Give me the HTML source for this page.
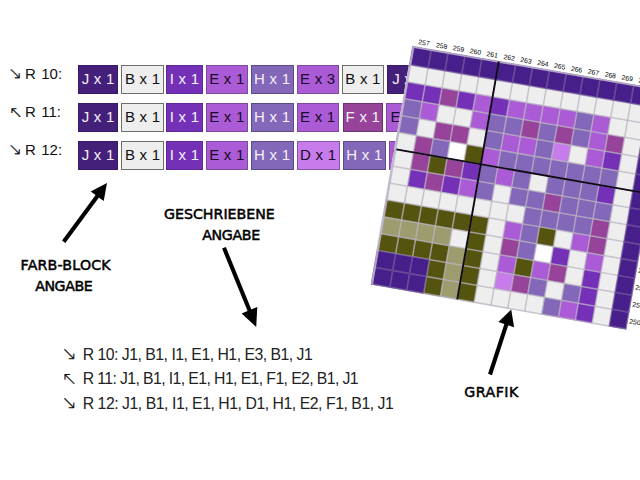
<!DOCTYPE html>
<html><head><meta charset="utf-8"><title>Anleitung</title>
<style>
html,body{margin:0;padding:0;background:#fff;}
body{width:640px;height:480px;position:relative;overflow:hidden;font-family:"Liberation Sans",sans-serif;}
.bk{position:absolute;height:28.8px;box-sizing:border-box;border:1px solid #555;font-size:15px;line-height:25.4px;text-align:center;white-space:nowrap;word-spacing:0.5px}
.lab{position:absolute;font-size:15px;line-height:18px;color:#111;white-space:nowrap;word-spacing:1.2px}
.hand{position:absolute;font-family:"DejaVu Sans","Liberation Sans",sans-serif;font-weight:normal;font-size:14.2px;line-height:14px;color:#000;white-space:nowrap;-webkit-text-stroke:0.5px #000}
.txt{position:absolute;font-size:15.8px;line-height:18px;color:#222;white-space:nowrap;letter-spacing:-0.45px}
.ar{position:absolute;font-family:"DejaVu Sans Light","DejaVu Sans",sans-serif;font-size:16.5px;line-height:20px;color:#111;-webkit-text-stroke:0.3px #111;white-space:nowrap}
.ar2{font-size:18.5px;-webkit-text-stroke:0.22px #111}
svg{position:absolute;left:0;top:0}
</style></head><body>
<div class="ar" id="a1" style="left:8px;top:63.5px">↘</div>
<div class="ar" id="a2" style="left:9.3px;top:102.5px">↖</div>
<div class="ar" id="a3" style="left:8px;top:139.6px">↘</div>
<div class="ar ar2" id="a4" style="left:61.2px;top:344px">↘</div>
<div class="ar ar2" id="a5" style="left:61.4px;top:368.6px">↖</div>
<div class="ar ar2" id="a6" style="left:61.2px;top:393.3px">↘</div>
<div class="lab" style="left:25px;top:64.8px">R 10:</div>
<div class="lab" style="left:25px;top:102.9px">R 11:</div>
<div class="lab" style="left:25px;top:140.9px">R 12:</div>
<div class="bk" style="left:78px;top:65.0px;width:40px;background:#44207a;border-color:#3a1a68;color:#f4f0fa">J x 1</div>
<div class="bk" style="left:121.25px;top:65.0px;width:42.5px;background:#eeeeee;border-color:#6e6e6e;color:#111">B x 1</div>
<div class="bk" style="left:166.25px;top:65.0px;width:36.25px;background:#7530b8;border-color:#5f2898;color:#f4f0fa">I x 1</div>
<div class="bk" style="left:205.5px;top:65.0px;width:42.5px;background:#ab5bd6;border-color:#7d4aa0;color:#1a0a2a">E x 1</div>
<div class="bk" style="left:250.5px;top:65.0px;width:43.25px;background:#8367b8;border-color:#5d4a88;color:#f4f0fa">H x 1</div>
<div class="bk" style="left:296.75px;top:65.0px;width:41.75px;background:#ab5bd6;border-color:#7d4aa0;color:#1a0a2a">E x 3</div>
<div class="bk" style="left:342px;top:65.0px;width:41.75px;background:#eeeeee;border-color:#6e6e6e;color:#111">B x 1</div>
<div class="bk" style="left:387px;top:65.0px;width:43px;background:#44207a;border-color:#3a1a68;color:#f4f0fa">J x 1</div>
<div class="bk" style="left:78px;top:103.1px;width:40px;background:#44207a;border-color:#3a1a68;color:#f4f0fa">J x 1</div>
<div class="bk" style="left:121.25px;top:103.1px;width:42.5px;background:#eeeeee;border-color:#6e6e6e;color:#111">B x 1</div>
<div class="bk" style="left:166.25px;top:103.1px;width:36.25px;background:#7530b8;border-color:#5f2898;color:#f4f0fa">I x 1</div>
<div class="bk" style="left:205.5px;top:103.1px;width:42.5px;background:#ab5bd6;border-color:#7d4aa0;color:#1a0a2a">E x 1</div>
<div class="bk" style="left:250.5px;top:103.1px;width:43.25px;background:#8367b8;border-color:#5d4a88;color:#f4f0fa">H x 1</div>
<div class="bk" style="left:296.75px;top:103.1px;width:41.75px;background:#ab5bd6;border-color:#7d4aa0;color:#1a0a2a">E x 1</div>
<div class="bk" style="left:342.5px;top:103.1px;width:40.5px;background:#964399;border-color:#6e3272;color:#f4f0fa">F x 1</div>
<div class="bk" style="left:386.25px;top:103.1px;width:43.75px;background:#ab5bd6;border-color:#7d4aa0;color:#1a0a2a">E x 2</div>
<div class="bk" style="left:78px;top:141.2px;width:40px;background:#44207a;border-color:#3a1a68;color:#f4f0fa">J x 1</div>
<div class="bk" style="left:121.25px;top:141.2px;width:42.5px;background:#eeeeee;border-color:#6e6e6e;color:#111">B x 1</div>
<div class="bk" style="left:166.25px;top:141.2px;width:36.25px;background:#7530b8;border-color:#5f2898;color:#f4f0fa">I x 1</div>
<div class="bk" style="left:205.5px;top:141.2px;width:42.5px;background:#ab5bd6;border-color:#7d4aa0;color:#1a0a2a">E x 1</div>
<div class="bk" style="left:250.5px;top:141.2px;width:43.25px;background:#8367b8;border-color:#5d4a88;color:#f4f0fa">H x 1</div>
<div class="bk" style="left:296.75px;top:141.2px;width:42.75px;background:#c87bea;border-color:#8a58a8;color:#1a0a2a">D x 1</div>
<div class="bk" style="left:343px;top:141.2px;width:42.5px;background:#8367b8;border-color:#5d4a88;color:#f4f0fa">H x 1</div>
<div class="bk" style="left:388.75px;top:141.2px;width:42.25px;background:#ab5bd6;border-color:#7d4aa0;color:#1a0a2a">E x 2</div>
<svg width="640" height="480" viewBox="0 0 640 480">
<polygon points="416.29,22.76 703.08,72.67 656.29,340.58 369.63,289.91" fill="#ffffff"/>
<polygon points="412.75,46.50 431.59,49.78 428.33,68.43 409.49,65.14" fill="#48208a"/>
<polygon points="431.29,49.73 448.46,52.72 445.20,71.37 428.04,68.37" fill="#48208a"/>
<polygon points="448.16,52.67 465.33,55.66 462.07,74.31 444.91,71.32" fill="#48208a"/>
<polygon points="465.04,55.61 482.20,58.60 478.95,77.26 461.78,74.26" fill="#48208a"/>
<polygon points="481.91,58.55 499.07,61.55 495.82,80.20 478.65,77.21" fill="#48208a"/>
<polygon points="498.78,61.49 515.95,64.49 512.69,83.14 495.52,80.15" fill="#48208a"/>
<polygon points="515.65,64.43 532.82,67.43 529.56,86.09 512.39,83.09" fill="#48208a"/>
<polygon points="532.52,67.38 549.69,70.37 546.43,89.03 529.26,86.04" fill="#48208a"/>
<polygon points="549.40,70.32 566.56,73.31 563.30,91.98 546.14,88.98" fill="#48208a"/>
<polygon points="566.27,73.26 583.43,76.25 580.17,94.92 563.01,91.92" fill="#48208a"/>
<polygon points="583.14,76.20 600.31,79.19 597.05,97.86 579.88,94.87" fill="#48208a"/>
<polygon points="600.01,79.14 617.18,82.13 613.92,100.81 596.75,97.81" fill="#48208a"/>
<polygon points="616.88,82.08 634.05,85.07 630.79,103.75 613.62,100.75" fill="#48208a"/>
<polygon points="633.76,85.02 650.92,88.01 647.66,106.69 630.49,103.70" fill="#48208a"/>
<polygon points="650.63,87.96 667.79,90.95 664.53,109.64 647.37,106.64" fill="#48208a"/>
<polygon points="409.55,64.84 428.38,68.13 425.38,85.29 406.55,82.00" fill="#eeeeee"/>
<polygon points="428.09,68.08 445.25,71.07 442.26,88.24 425.09,85.24" fill="#eeeeee"/>
<polygon points="444.96,71.02 462.13,74.02 459.13,91.19 441.96,88.19" fill="#eeeeee"/>
<polygon points="461.83,73.97 479.00,76.96 476.00,94.13 458.83,91.14" fill="#eeeeee"/>
<polygon points="478.70,76.91 495.87,79.90 492.87,97.08 475.70,94.08" fill="#eeeeee"/>
<polygon points="495.57,79.85 512.74,82.85 509.74,100.03 492.57,97.03" fill="#eeeeee"/>
<polygon points="512.45,82.80 529.61,85.79 526.61,102.97 509.44,99.98" fill="#eeeeee"/>
<polygon points="529.32,85.74 546.48,88.74 543.48,105.92 526.32,102.92" fill="#eeeeee"/>
<polygon points="546.19,88.68 563.35,91.68 560.35,108.87 543.19,105.87" fill="#eeeeee"/>
<polygon points="563.06,91.63 580.23,94.62 577.22,111.81 560.06,108.82" fill="#eeeeee"/>
<polygon points="579.93,94.57 597.10,97.57 594.09,114.76 576.93,111.76" fill="#eeeeee"/>
<polygon points="596.80,97.52 613.97,100.51 610.97,117.71 593.80,114.71" fill="#eeeeee"/>
<polygon points="613.67,100.46 630.84,103.45 627.84,120.65 610.67,117.66" fill="#eeeeee"/>
<polygon points="630.55,103.40 647.71,106.40 644.71,123.60 627.54,120.60" fill="#eeeeee"/>
<polygon points="647.42,106.35 664.58,109.34 661.58,126.55 644.41,123.55" fill="#48208a"/>
<polygon points="406.60,81.71 425.44,85.00 422.44,102.16 403.60,98.87" fill="#7530b8"/>
<polygon points="425.14,84.95 442.31,87.95 439.31,105.11 422.14,102.11" fill="#7530b8"/>
<polygon points="442.01,87.89 459.18,90.89 456.18,108.06 439.01,105.06" fill="#964399"/>
<polygon points="458.88,90.84 476.05,93.84 473.05,111.01 455.88,108.01" fill="#7530b8"/>
<polygon points="475.75,93.79 492.92,96.78 489.92,113.96 472.75,110.96" fill="#ab5bd6"/>
<polygon points="492.63,96.73 509.79,99.73 506.79,116.91 489.63,113.91" fill="#7530b8"/>
<polygon points="509.50,99.68 526.66,102.68 523.66,119.86 506.50,116.86" fill="#ab5bd6"/>
<polygon points="526.37,102.63 543.53,105.62 540.53,122.81 523.37,119.81" fill="#ab5bd6"/>
<polygon points="543.24,105.57 560.40,108.57 557.40,125.76 540.24,122.76" fill="#ab5bd6"/>
<polygon points="560.11,108.52 577.28,111.52 574.27,128.71 557.11,125.71" fill="#ab5bd6"/>
<polygon points="576.98,111.47 594.15,114.46 591.14,131.66 573.98,128.66" fill="#8367b8"/>
<polygon points="593.85,114.41 611.02,117.41 608.01,134.61 590.85,131.61" fill="#ab5bd6"/>
<polygon points="610.72,117.36 627.89,120.36 624.88,137.56 607.72,134.56" fill="#eeeeee"/>
<polygon points="627.59,120.31 644.76,123.30 641.75,140.51 624.59,137.50" fill="#eeeeee"/>
<polygon points="644.46,123.25 661.63,126.25 658.63,143.45 641.46,140.45" fill="#48208a"/>
<polygon points="403.65,98.58 422.49,101.87 419.49,119.03 400.66,115.74" fill="#8367b8"/>
<polygon points="422.19,101.82 439.36,104.82 436.36,121.98 419.20,118.98" fill="#ab5bd6"/>
<polygon points="439.07,104.77 456.23,107.77 453.23,124.94 436.07,121.93" fill="#eeeeee"/>
<polygon points="455.94,107.72 473.10,110.72 470.10,127.89 452.94,124.89" fill="#eeeeee"/>
<polygon points="472.81,110.66 489.97,113.67 486.97,130.84 469.81,127.84" fill="#ab5bd6"/>
<polygon points="489.68,113.61 506.84,116.61 503.84,133.79 486.68,130.79" fill="#8367b8"/>
<polygon points="506.55,116.56 523.71,119.56 520.71,136.75 503.55,133.74" fill="#8367b8"/>
<polygon points="523.42,119.51 540.58,122.51 537.58,139.70 520.42,136.69" fill="#964399"/>
<polygon points="540.29,122.46 557.45,125.46 554.45,142.65 537.29,139.65" fill="#8367b8"/>
<polygon points="557.16,125.41 574.32,128.41 571.32,145.60 554.16,142.60" fill="#964399"/>
<polygon points="574.03,128.36 591.20,131.36 588.19,148.55 571.03,145.55" fill="#8367b8"/>
<polygon points="590.90,131.31 608.07,134.31 605.06,151.51 587.90,148.50" fill="#ab5bd6"/>
<polygon points="607.77,134.26 624.94,137.26 621.93,154.46 604.77,151.46" fill="#964399"/>
<polygon points="624.64,137.21 641.81,140.21 638.80,157.41 621.64,154.41" fill="#eeeeee"/>
<polygon points="641.51,140.16 658.68,143.16 655.67,160.36 638.51,157.36" fill="#48208a"/>
<polygon points="400.71,115.44 419.54,118.74 416.55,135.90 397.71,132.60" fill="#8367b8"/>
<polygon points="419.25,118.69 436.41,121.69 433.41,138.86 416.25,135.85" fill="#eeeeee"/>
<polygon points="436.12,121.64 453.28,124.64 450.28,141.81 433.12,138.81" fill="#964399"/>
<polygon points="452.99,124.59 470.15,127.59 467.15,144.77 449.99,141.76" fill="#964399"/>
<polygon points="469.86,127.54 487.02,130.55 484.02,147.72 466.86,144.72" fill="#eeeeee"/>
<polygon points="486.73,130.49 503.89,133.50 500.89,150.68 483.73,147.67" fill="#8367b8"/>
<polygon points="503.60,133.45 520.76,136.45 517.76,153.63 500.60,150.63" fill="#ab5bd6"/>
<polygon points="520.47,136.40 537.63,139.40 534.63,156.59 517.47,153.58" fill="#ab5bd6"/>
<polygon points="537.34,139.35 554.50,142.35 551.50,159.54 534.34,156.54" fill="#8367b8"/>
<polygon points="554.21,142.30 571.37,145.31 568.37,162.50 551.21,159.49" fill="#c87bea"/>
<polygon points="571.08,145.25 588.24,148.26 585.24,165.45 568.08,162.45" fill="#eeeeee"/>
<polygon points="587.95,148.21 605.11,151.21 602.11,168.41 584.95,165.40" fill="#ab5bd6"/>
<polygon points="604.82,151.16 621.98,154.16 618.98,171.36 601.82,168.36" fill="#7530b8"/>
<polygon points="621.69,154.11 638.85,157.11 635.85,174.32 618.69,171.31" fill="#eeeeee"/>
<polygon points="638.56,157.06 655.72,160.07 652.72,177.27 635.56,174.27" fill="#48208a"/>
<polygon points="397.76,132.31 416.60,135.61 413.60,152.77 394.77,149.47" fill="#eeeeee"/>
<polygon points="416.30,135.55 433.47,138.56 430.47,155.73 413.30,152.72" fill="#964399"/>
<polygon points="433.17,138.51 450.34,141.52 447.34,158.69 430.17,155.68" fill="#8367b8"/>
<polygon points="450.04,141.46 467.21,144.47 464.21,161.64 447.04,158.63" fill="#ffffff"/>
<polygon points="466.91,144.42 484.08,147.43 481.08,164.60 463.91,161.59" fill="#54540e"/>
<polygon points="483.78,147.37 500.94,150.38 497.94,167.56 480.78,164.55" fill="#ab5bd6"/>
<polygon points="500.65,150.33 517.81,153.34 514.81,170.52 497.65,167.51" fill="#8367b8"/>
<polygon points="517.52,153.28 534.68,156.29 531.68,173.48 514.52,170.47" fill="#8367b8"/>
<polygon points="534.39,156.24 551.55,159.25 548.55,176.43 531.39,173.42" fill="#8367b8"/>
<polygon points="551.26,159.19 568.42,162.20 565.42,179.39 548.26,176.38" fill="#8367b8"/>
<polygon points="568.13,162.15 585.29,165.16 582.29,182.35 565.13,179.34" fill="#8367b8"/>
<polygon points="585.00,165.10 602.16,168.11 599.16,185.31 582.00,182.30" fill="#8367b8"/>
<polygon points="601.87,168.06 619.03,171.07 616.03,188.26 598.86,185.26" fill="#8367b8"/>
<polygon points="618.74,171.01 635.90,174.02 632.90,191.22 615.73,188.21" fill="#eeeeee"/>
<polygon points="635.61,173.97 652.77,176.98 649.77,194.18 632.60,191.17" fill="#48208a"/>
<polygon points="394.82,149.17 413.65,152.48 410.65,169.64 391.82,166.33" fill="#eeeeee"/>
<polygon points="413.36,152.42 430.52,155.43 427.52,172.60 410.36,169.59" fill="#964399"/>
<polygon points="430.22,155.38 447.39,158.39 444.39,175.56 427.23,172.55" fill="#54540e"/>
<polygon points="447.09,158.34 464.26,161.35 461.26,178.52 444.10,175.51" fill="#964399"/>
<polygon points="463.96,161.30 481.13,164.31 478.13,181.48 460.96,178.47" fill="#7530b8"/>
<polygon points="480.83,164.25 498.00,167.26 495.00,184.44 477.83,181.43" fill="#8367b8"/>
<polygon points="497.70,167.21 514.87,170.22 511.86,187.40 494.70,184.39" fill="#ab5bd6"/>
<polygon points="514.57,170.17 531.73,173.18 528.73,190.36 511.57,187.35" fill="#8367b8"/>
<polygon points="531.44,173.13 548.60,176.14 545.60,193.32 528.44,190.31" fill="#eeeeee"/>
<polygon points="548.31,176.09 565.47,179.10 562.47,196.29 545.31,193.27" fill="#8367b8"/>
<polygon points="565.18,179.04 582.34,182.05 579.34,199.25 562.18,196.23" fill="#8367b8"/>
<polygon points="582.05,182.00 599.21,185.01 596.21,202.21 579.04,199.19" fill="#8367b8"/>
<polygon points="598.92,184.96 616.08,187.97 613.08,205.17 595.91,202.16" fill="#7530b8"/>
<polygon points="615.79,187.92 632.95,190.93 629.94,208.13 612.78,205.12" fill="#eeeeee"/>
<polygon points="632.65,190.87 649.82,193.88 646.81,211.09 629.65,208.08" fill="#48208a"/>
<polygon points="391.87,166.04 410.70,169.34 407.71,186.51 388.87,183.20" fill="#eeeeee"/>
<polygon points="410.41,169.29 427.57,172.30 424.57,189.47 407.41,186.46" fill="#7530b8"/>
<polygon points="427.28,172.25 444.44,175.27 441.44,192.44 424.28,189.42" fill="#964399"/>
<polygon points="444.15,175.21 461.31,178.23 458.31,195.40 441.15,192.38" fill="#7530b8"/>
<polygon points="461.02,178.17 478.18,181.19 475.18,198.36 458.02,195.35" fill="#ab5bd6"/>
<polygon points="477.88,181.13 495.05,184.15 492.05,201.33 474.88,198.31" fill="#8367b8"/>
<polygon points="494.75,184.10 511.92,187.11 508.92,204.29 491.75,201.27" fill="#eeeeee"/>
<polygon points="511.62,187.06 528.78,190.07 525.78,207.25 508.62,204.24" fill="#8367b8"/>
<polygon points="528.49,190.02 545.65,193.03 542.65,210.22 525.49,207.20" fill="#8367b8"/>
<polygon points="545.36,192.98 562.52,195.99 559.52,213.18 542.36,210.16" fill="#964399"/>
<polygon points="562.23,195.94 579.39,198.95 576.39,216.14 559.23,213.13" fill="#8367b8"/>
<polygon points="579.10,198.90 596.26,201.91 593.26,219.11 576.09,216.09" fill="#8367b8"/>
<polygon points="595.96,201.86 613.13,204.87 610.12,222.07 592.96,219.06" fill="#8367b8"/>
<polygon points="612.83,204.82 630.00,207.83 626.99,225.03 609.83,222.02" fill="#eeeeee"/>
<polygon points="629.70,207.78 646.87,210.79 643.86,228.00 626.70,224.98" fill="#48208a"/>
<polygon points="388.93,182.90 407.76,186.21 404.76,203.38 385.93,200.07" fill="#eeeeee"/>
<polygon points="407.46,186.16 424.63,189.18 421.63,206.34 404.47,203.33" fill="#eeeeee"/>
<polygon points="424.33,189.12 441.49,192.14 438.50,209.31 421.33,206.29" fill="#eeeeee"/>
<polygon points="441.20,192.09 458.36,195.10 455.36,212.28 438.20,209.26" fill="#eeeeee"/>
<polygon points="458.07,195.05 475.23,198.07 472.23,215.24 455.07,212.22" fill="#eeeeee"/>
<polygon points="474.94,198.02 492.10,201.03 489.10,218.21 471.94,215.19" fill="#eeeeee"/>
<polygon points="491.80,200.98 508.97,203.99 505.97,221.18 488.80,218.16" fill="#eeeeee"/>
<polygon points="508.67,203.94 525.84,206.96 522.83,224.14 505.67,221.12" fill="#eeeeee"/>
<polygon points="525.54,206.91 542.70,209.92 539.70,227.11 522.54,224.09" fill="#8367b8"/>
<polygon points="542.41,209.87 559.57,212.88 556.57,230.07 539.41,227.06" fill="#8367b8"/>
<polygon points="559.28,212.83 576.44,215.85 573.44,233.04 556.27,230.02" fill="#8367b8"/>
<polygon points="576.14,215.80 593.31,218.81 590.30,236.01 573.14,232.99" fill="#8367b8"/>
<polygon points="593.01,218.76 610.18,221.77 607.17,238.97 590.01,235.96" fill="#964399"/>
<polygon points="609.88,221.72 627.04,224.74 624.04,241.94 606.88,238.92" fill="#eeeeee"/>
<polygon points="626.75,224.69 643.91,227.70 640.91,244.91 623.75,241.89" fill="#48208a"/>
<polygon points="385.98,199.77 404.81,203.08 401.81,220.25 382.98,216.93" fill="#54540e"/>
<polygon points="404.52,203.03 421.68,206.05 418.68,223.22 401.52,220.20" fill="#54540e"/>
<polygon points="421.38,206.00 438.55,209.01 435.55,226.19 418.39,223.16" fill="#54540e"/>
<polygon points="438.25,208.96 455.41,211.98 452.42,229.15 435.25,226.13" fill="#54540e"/>
<polygon points="455.12,211.93 472.28,214.95 469.28,232.12 452.12,229.10" fill="#54540e"/>
<polygon points="471.99,214.90 489.15,217.91 486.15,235.09 468.99,232.07" fill="#54540e"/>
<polygon points="488.86,217.86 506.02,220.88 503.02,238.06 485.85,235.04" fill="#eeeeee"/>
<polygon points="505.72,220.83 522.89,223.85 519.88,241.03 502.72,238.01" fill="#ab5bd6"/>
<polygon points="522.59,223.79 539.75,226.81 536.75,244.00 519.59,240.98" fill="#8367b8"/>
<polygon points="539.46,226.76 556.62,229.78 553.62,246.97 536.46,243.95" fill="#54540e"/>
<polygon points="556.33,229.73 573.49,232.74 570.49,249.94 553.32,246.92" fill="#eeeeee"/>
<polygon points="573.19,232.69 590.36,235.71 587.35,252.91 570.19,249.89" fill="#ab5bd6"/>
<polygon points="590.06,235.66 607.22,238.68 604.22,255.88 587.06,252.86" fill="#964399"/>
<polygon points="606.93,238.63 624.09,241.64 621.09,258.85 603.93,255.82" fill="#eeeeee"/>
<polygon points="623.80,241.59 640.96,244.61 637.95,261.81 620.79,258.79" fill="#48208a"/>
<polygon points="383.03,216.64 401.87,219.95 398.87,237.12 380.04,233.80" fill="#9c9c6e"/>
<polygon points="401.57,219.90 418.73,222.92 415.73,240.09 398.57,237.06" fill="#9c9c6e"/>
<polygon points="418.44,222.87 435.60,225.89 432.60,243.06 415.44,240.04" fill="#9c9c6e"/>
<polygon points="435.30,225.84 452.47,228.86 449.47,246.03 432.31,243.01" fill="#9c9c6e"/>
<polygon points="452.17,228.81 469.33,231.83 466.33,249.00 449.17,245.98" fill="#eeeeee"/>
<polygon points="469.04,231.78 486.20,234.80 483.20,251.98 466.04,248.95" fill="#54540e"/>
<polygon points="485.91,234.74 503.07,237.77 500.07,254.95 482.91,251.92" fill="#eeeeee"/>
<polygon points="502.77,237.71 519.94,240.73 516.93,257.92 499.77,254.90" fill="#964399"/>
<polygon points="519.64,240.68 536.80,243.70 533.80,260.89 516.64,257.87" fill="#8367b8"/>
<polygon points="536.51,243.65 553.67,246.67 550.67,263.86 533.51,260.84" fill="#ffffff"/>
<polygon points="553.38,246.62 570.54,249.64 567.53,266.84 550.37,263.81" fill="#7530b8"/>
<polygon points="570.24,249.59 587.40,252.61 584.40,269.81 567.24,266.78" fill="#eeeeee"/>
<polygon points="587.11,252.56 604.27,255.58 601.27,272.78 584.11,269.76" fill="#ab5bd6"/>
<polygon points="603.98,255.53 621.14,258.55 618.13,275.75 600.97,272.73" fill="#eeeeee"/>
<polygon points="620.84,258.50 638.01,261.52 635.00,278.72 617.84,275.70" fill="#48208a"/>
<polygon points="380.09,233.50 398.92,236.82 395.92,253.98 377.09,250.66" fill="#54540e"/>
<polygon points="398.62,236.77 415.79,239.79 412.79,256.96 395.63,253.93" fill="#54540e"/>
<polygon points="415.49,239.74 432.65,242.76 429.65,259.93 412.49,256.91" fill="#54540e"/>
<polygon points="432.36,242.71 449.52,245.74 446.52,262.91 429.36,259.88" fill="#54540e"/>
<polygon points="449.22,245.68 466.39,248.71 463.39,265.88 446.22,262.86" fill="#9c9c6e"/>
<polygon points="466.09,248.66 483.25,251.68 480.25,268.86 463.09,265.83" fill="#54540e"/>
<polygon points="482.96,251.63 500.12,254.65 497.12,271.83 479.96,268.81" fill="#eeeeee"/>
<polygon points="499.82,254.60 516.99,257.62 513.98,274.81 496.82,271.78" fill="#ab5bd6"/>
<polygon points="516.69,257.57 533.85,260.60 530.85,277.78 513.69,274.76" fill="#54540e"/>
<polygon points="533.56,260.54 550.72,263.57 547.72,280.76 530.56,277.73" fill="#ab5bd6"/>
<polygon points="550.42,263.52 567.59,266.54 564.58,283.73 547.42,280.71" fill="#964399"/>
<polygon points="567.29,266.49 584.45,269.51 581.45,286.71 564.29,283.68" fill="#eeeeee"/>
<polygon points="584.16,269.46 601.32,272.48 598.32,289.68 581.16,286.66" fill="#7530b8"/>
<polygon points="601.03,272.43 618.19,275.45 615.18,292.66 598.02,289.63" fill="#eeeeee"/>
<polygon points="617.89,275.40 635.05,278.43 632.05,295.63 614.89,292.60" fill="#48208a"/>
<polygon points="377.14,250.37 395.97,253.69 392.97,270.85 374.14,267.53" fill="#48208a"/>
<polygon points="395.68,253.64 412.84,256.66 409.84,273.83 392.68,270.80" fill="#48208a"/>
<polygon points="412.54,256.61 429.70,259.64 426.71,276.81 409.55,273.78" fill="#48208a"/>
<polygon points="429.41,259.59 446.57,262.61 443.57,279.79 426.41,276.76" fill="#54540e"/>
<polygon points="446.28,262.56 463.44,265.59 460.44,282.76 443.28,279.73" fill="#9c9c6e"/>
<polygon points="463.14,265.54 480.30,268.56 477.30,285.74 460.14,282.71" fill="#54540e"/>
<polygon points="480.01,268.51 497.17,271.54 494.17,288.72 477.01,285.69" fill="#eeeeee"/>
<polygon points="496.88,271.49 514.04,274.51 511.04,291.70 493.87,288.67" fill="#c87bea"/>
<polygon points="513.74,274.46 530.90,277.49 527.90,294.67 510.74,291.64" fill="#964399"/>
<polygon points="530.61,277.43 547.77,280.46 544.77,297.65 527.61,294.62" fill="#8367b8"/>
<polygon points="547.47,280.41 564.64,283.44 561.63,300.63 544.47,297.60" fill="#eeeeee"/>
<polygon points="564.34,283.38 581.50,286.41 578.50,303.61 561.34,300.58" fill="#8367b8"/>
<polygon points="581.21,286.36 598.37,289.39 595.36,306.58 578.20,303.56" fill="#7530b8"/>
<polygon points="598.07,289.33 615.23,292.36 612.23,309.56 595.07,306.53" fill="#eeeeee"/>
<polygon points="614.94,292.31 632.10,295.34 629.10,312.54 611.94,309.51" fill="#48208a"/>
<polygon points="374.20,267.23 393.03,270.56 390.03,287.72 371.20,284.40" fill="#48208a"/>
<polygon points="392.73,270.51 409.89,273.54 406.89,290.70 389.73,287.67" fill="#48208a"/>
<polygon points="409.60,273.48 426.76,276.51 423.76,293.68 406.60,290.65" fill="#48208a"/>
<polygon points="426.46,276.46 443.62,279.49 440.62,296.66 423.46,293.63" fill="#54540e"/>
<polygon points="443.33,279.44 460.49,282.47 457.49,299.64 440.33,296.61" fill="#9c9c6e"/>
<polygon points="460.19,282.42 477.36,285.45 474.35,302.62 457.19,299.59" fill="#54540e"/>
<polygon points="477.06,285.39 494.22,288.42 491.22,305.61 474.06,302.57" fill="#eeeeee"/>
<polygon points="493.93,288.37 511.09,291.40 508.09,308.59 490.93,305.55" fill="#eeeeee"/>
<polygon points="510.79,291.35 527.95,294.38 524.95,311.57 507.79,308.53" fill="#eeeeee"/>
<polygon points="527.66,294.33 544.82,297.36 541.82,314.55 524.66,311.51" fill="#eeeeee"/>
<polygon points="544.52,297.30 561.68,300.33 558.68,317.53 541.52,314.49" fill="#8367b8"/>
<polygon points="561.39,300.28 578.55,303.31 575.55,320.51 558.39,317.47" fill="#ab5bd6"/>
<polygon points="578.26,303.26 595.42,306.29 592.41,323.49 575.25,320.46" fill="#7530b8"/>
<polygon points="595.12,306.24 612.28,309.27 609.28,326.47 592.12,323.44" fill="#eeeeee"/>
<polygon points="611.99,309.21 629.15,312.24 626.14,329.45 608.98,326.42" fill="#48208a"/>
<line x1="412.75" y1="46.50" x2="371.25" y2="284.10" stroke="rgba(186,180,194,0.75)" stroke-width="1.5"/>
<line x1="431.29" y1="49.73" x2="389.78" y2="287.38" stroke="rgba(186,180,194,0.75)" stroke-width="1.5"/>
<line x1="448.16" y1="52.67" x2="406.65" y2="290.36" stroke="rgba(186,180,194,0.75)" stroke-width="1.5"/>
<line x1="465.04" y1="55.61" x2="423.52" y2="293.34" stroke="rgba(186,180,194,0.75)" stroke-width="1.5"/>
<line x1="481.91" y1="58.55" x2="440.38" y2="296.32" stroke="rgba(186,180,194,0.75)" stroke-width="1.5"/>
<line x1="498.78" y1="61.49" x2="457.25" y2="299.30" stroke="rgba(186,180,194,0.75)" stroke-width="1.5"/>
<line x1="515.65" y1="64.43" x2="474.11" y2="302.28" stroke="rgba(186,180,194,0.75)" stroke-width="1.5"/>
<line x1="532.52" y1="67.38" x2="490.98" y2="305.26" stroke="rgba(186,180,194,0.75)" stroke-width="1.5"/>
<line x1="549.40" y1="70.32" x2="507.84" y2="308.24" stroke="rgba(186,180,194,0.75)" stroke-width="1.5"/>
<line x1="566.27" y1="73.26" x2="524.71" y2="311.22" stroke="rgba(186,180,194,0.75)" stroke-width="1.5"/>
<line x1="583.14" y1="76.20" x2="541.57" y2="314.20" stroke="rgba(186,180,194,0.75)" stroke-width="1.5"/>
<line x1="600.01" y1="79.14" x2="558.44" y2="317.18" stroke="rgba(186,180,194,0.75)" stroke-width="1.5"/>
<line x1="616.88" y1="82.08" x2="575.30" y2="320.16" stroke="rgba(186,180,194,0.75)" stroke-width="1.5"/>
<line x1="633.76" y1="85.02" x2="592.17" y2="323.14" stroke="rgba(186,180,194,0.75)" stroke-width="1.5"/>
<line x1="650.63" y1="87.96" x2="609.03" y2="326.12" stroke="rgba(186,180,194,0.75)" stroke-width="1.5"/>
<line x1="667.50" y1="90.90" x2="625.90" y2="329.10" stroke="rgba(186,180,194,0.75)" stroke-width="1.5"/>
<line x1="412.75" y1="46.50" x2="667.50" y2="90.90" stroke="rgba(186,180,194,0.75)" stroke-width="1.5"/>
<line x1="409.55" y1="64.84" x2="664.29" y2="109.29" stroke="rgba(186,180,194,0.75)" stroke-width="1.5"/>
<line x1="406.60" y1="81.71" x2="661.34" y2="126.20" stroke="rgba(186,180,194,0.75)" stroke-width="1.5"/>
<line x1="403.65" y1="98.58" x2="658.38" y2="143.11" stroke="rgba(186,180,194,0.75)" stroke-width="1.5"/>
<line x1="400.71" y1="115.44" x2="655.43" y2="160.02" stroke="rgba(186,180,194,0.75)" stroke-width="1.5"/>
<line x1="397.76" y1="132.31" x2="652.48" y2="176.92" stroke="rgba(186,180,194,0.75)" stroke-width="1.5"/>
<line x1="394.82" y1="149.17" x2="649.52" y2="193.83" stroke="rgba(186,180,194,0.75)" stroke-width="1.5"/>
<line x1="391.87" y1="166.04" x2="646.57" y2="210.74" stroke="rgba(186,180,194,0.75)" stroke-width="1.5"/>
<line x1="388.93" y1="182.90" x2="643.62" y2="227.65" stroke="rgba(186,180,194,0.75)" stroke-width="1.5"/>
<line x1="385.98" y1="199.77" x2="640.66" y2="244.56" stroke="rgba(186,180,194,0.75)" stroke-width="1.5"/>
<line x1="383.03" y1="216.64" x2="637.71" y2="261.47" stroke="rgba(186,180,194,0.75)" stroke-width="1.5"/>
<line x1="380.09" y1="233.50" x2="634.76" y2="278.37" stroke="rgba(186,180,194,0.75)" stroke-width="1.5"/>
<line x1="377.14" y1="250.37" x2="631.81" y2="295.28" stroke="rgba(186,180,194,0.75)" stroke-width="1.5"/>
<line x1="374.20" y1="267.23" x2="628.85" y2="312.19" stroke="rgba(186,180,194,0.75)" stroke-width="1.5"/>
<line x1="371.25" y1="284.10" x2="625.90" y2="329.10" stroke="rgba(186,180,194,0.75)" stroke-width="1.5"/>
<polygon points="412.43,46.04 431.75,49.41 428.41,68.54 409.08,65.17" fill="#48208a" fill-opacity="0.45"/>
<polygon points="430.97,49.27 448.63,52.35 445.28,71.48 427.63,68.40" fill="#48208a" fill-opacity="0.45"/>
<polygon points="447.84,52.21 465.50,55.29 462.15,74.43 444.50,71.35" fill="#48208a" fill-opacity="0.45"/>
<polygon points="464.71,55.15 482.37,58.23 479.03,77.37 461.37,74.29" fill="#48208a" fill-opacity="0.45"/>
<polygon points="481.58,58.09 499.24,61.17 495.90,80.32 478.24,77.24" fill="#48208a" fill-opacity="0.45"/>
<polygon points="498.46,61.03 516.11,64.11 512.77,83.26 495.11,80.18" fill="#48208a" fill-opacity="0.45"/>
<polygon points="515.33,63.97 532.99,67.05 529.64,86.20 511.98,83.12" fill="#48208a" fill-opacity="0.45"/>
<polygon points="532.20,66.91 549.86,69.99 546.51,89.15 528.85,86.07" fill="#48208a" fill-opacity="0.45"/>
<polygon points="549.07,69.85 566.73,72.93 563.38,92.09 545.73,89.01" fill="#48208a" fill-opacity="0.45"/>
<polygon points="565.94,72.79 583.60,75.87 580.26,95.03 562.60,91.95" fill="#48208a" fill-opacity="0.45"/>
<polygon points="582.82,75.73 600.47,78.81 597.13,97.98 579.47,94.90" fill="#48208a" fill-opacity="0.45"/>
<polygon points="599.69,78.67 617.35,81.75 614.00,100.92 596.34,97.84" fill="#48208a" fill-opacity="0.45"/>
<polygon points="616.56,81.61 634.22,84.69 630.87,103.87 613.21,100.79" fill="#48208a" fill-opacity="0.45"/>
<polygon points="633.43,84.56 651.09,87.63 647.74,106.81 630.08,103.73" fill="#48208a" fill-opacity="0.45"/>
<polygon points="650.30,87.50 667.96,90.57 664.61,109.75 646.95,106.67" fill="#48208a" fill-opacity="0.45"/>
<polygon points="647.09,105.88 664.75,108.96 661.66,126.66 644.00,123.58" fill="#48208a" fill-opacity="0.45"/>
<polygon points="644.14,122.79 661.80,125.87 658.71,143.57 641.05,140.48" fill="#48208a" fill-opacity="0.45"/>
<polygon points="641.19,139.69 658.84,142.78 655.75,160.48 638.10,157.39" fill="#48208a" fill-opacity="0.45"/>
<polygon points="638.24,156.60 655.89,159.69 652.80,177.39 635.15,174.29" fill="#48208a" fill-opacity="0.45"/>
<polygon points="635.28,173.51 652.94,176.60 649.85,194.30 632.19,191.20" fill="#48208a" fill-opacity="0.45"/>
<polygon points="632.33,190.41 649.99,193.51 646.89,211.20 629.24,208.11" fill="#48208a" fill-opacity="0.45"/>
<polygon points="629.38,207.32 647.03,210.41 643.94,228.11 626.29,225.01" fill="#48208a" fill-opacity="0.45"/>
<polygon points="626.43,224.22 644.08,227.32 640.99,245.02 623.34,241.92" fill="#48208a" fill-opacity="0.45"/>
<polygon points="623.47,241.13 641.13,244.23 638.04,261.93 620.38,258.82" fill="#48208a" fill-opacity="0.45"/>
<polygon points="620.52,258.03 638.17,261.14 635.08,278.84 617.43,275.73" fill="#48208a" fill-opacity="0.45"/>
<polygon points="617.57,274.94 635.22,278.05 632.13,295.75 614.48,292.63" fill="#48208a" fill-opacity="0.45"/>
<polygon points="376.82,249.90 396.14,253.31 393.06,270.97 373.73,267.56" fill="#48208a" fill-opacity="0.45"/>
<polygon points="395.35,253.17 413.01,256.29 409.92,273.95 392.27,270.83" fill="#48208a" fill-opacity="0.45"/>
<polygon points="412.22,256.15 429.87,259.26 426.79,276.92 409.14,273.81" fill="#48208a" fill-opacity="0.45"/>
<polygon points="614.62,291.84 632.27,294.96 629.18,312.66 611.53,309.54" fill="#48208a" fill-opacity="0.45"/>
<polygon points="373.87,266.77 393.19,270.18 390.11,287.84 370.79,284.42" fill="#48208a" fill-opacity="0.45"/>
<polygon points="392.41,270.04 410.06,273.16 406.97,290.82 389.32,287.70" fill="#48208a" fill-opacity="0.45"/>
<polygon points="409.27,273.02 426.92,276.14 423.84,293.80 406.19,290.68" fill="#48208a" fill-opacity="0.45"/>
<polygon points="611.66,308.75 629.31,311.87 626.22,329.56 608.57,326.45" fill="#48208a" fill-opacity="0.45"/>
<line x1="413.54" y1="46.64" x2="372.04" y2="284.24" stroke="rgba(190,180,204,0.85)" stroke-width="2.0"/>
<line x1="412.66" y1="46.99" x2="667.41" y2="91.39" stroke="rgba(190,180,204,0.85)" stroke-width="1.5"/>
<line x1="498.78" y1="61.49" x2="457.25" y2="299.30" stroke="#0e0a16" stroke-width="1.85"/>
<line x1="396.39" y1="149.45" x2="649.52" y2="193.83" stroke="#0e0a16" stroke-width="1.85"/>
<text transform="translate(423.57,45.04) rotate(10.1)" font-size="6.8" text-anchor="middle" fill="#000" font-family="Liberation Sans, sans-serif">257</text>
<text transform="translate(441.28,48.12) rotate(10.1)" font-size="6.8" text-anchor="middle" fill="#000" font-family="Liberation Sans, sans-serif">258</text>
<text transform="translate(458.15,51.06) rotate(10.1)" font-size="6.8" text-anchor="middle" fill="#000" font-family="Liberation Sans, sans-serif">259</text>
<text transform="translate(475.02,54.00) rotate(10.1)" font-size="6.8" text-anchor="middle" fill="#000" font-family="Liberation Sans, sans-serif">260</text>
<text transform="translate(491.89,56.94) rotate(10.1)" font-size="6.8" text-anchor="middle" fill="#000" font-family="Liberation Sans, sans-serif">261</text>
<text transform="translate(508.77,59.88) rotate(10.1)" font-size="6.8" text-anchor="middle" fill="#000" font-family="Liberation Sans, sans-serif">262</text>
<text transform="translate(525.64,62.82) rotate(10.1)" font-size="6.8" text-anchor="middle" fill="#000" font-family="Liberation Sans, sans-serif">263</text>
<text transform="translate(542.51,65.76) rotate(10.1)" font-size="6.8" text-anchor="middle" fill="#000" font-family="Liberation Sans, sans-serif">264</text>
<text transform="translate(559.38,68.70) rotate(10.1)" font-size="6.8" text-anchor="middle" fill="#000" font-family="Liberation Sans, sans-serif">265</text>
<text transform="translate(576.26,71.64) rotate(10.1)" font-size="6.8" text-anchor="middle" fill="#000" font-family="Liberation Sans, sans-serif">266</text>
<text transform="translate(593.13,74.58) rotate(10.1)" font-size="6.8" text-anchor="middle" fill="#000" font-family="Liberation Sans, sans-serif">267</text>
<text transform="translate(610.00,77.52) rotate(10.1)" font-size="6.8" text-anchor="middle" fill="#000" font-family="Liberation Sans, sans-serif">268</text>
<text transform="translate(626.87,80.46) rotate(10.1)" font-size="6.8" text-anchor="middle" fill="#000" font-family="Liberation Sans, sans-serif">269</text>
<text transform="translate(643.74,83.40) rotate(10.1)" font-size="6.8" text-anchor="middle" fill="#000" font-family="Liberation Sans, sans-serif">270</text>
<text transform="translate(660.62,86.34) rotate(10.1)" font-size="6.8" text-anchor="middle" fill="#000" font-family="Liberation Sans, sans-serif">271</text>
<text transform="translate(667.64,102.84) rotate(10.1)" font-size="6.8" fill="#000" font-family="Liberation Sans, sans-serif">263</text>
<text transform="translate(664.56,120.49) rotate(10.1)" font-size="6.8" fill="#000" font-family="Liberation Sans, sans-serif">262</text>
<text transform="translate(661.61,137.40) rotate(10.1)" font-size="6.8" fill="#000" font-family="Liberation Sans, sans-serif">261</text>
<text transform="translate(658.65,154.31) rotate(10.1)" font-size="6.8" fill="#000" font-family="Liberation Sans, sans-serif">260</text>
<text transform="translate(655.70,171.22) rotate(10.1)" font-size="6.8" fill="#000" font-family="Liberation Sans, sans-serif">259</text>
<text transform="translate(652.75,188.13) rotate(10.1)" font-size="6.8" fill="#000" font-family="Liberation Sans, sans-serif">258</text>
<text transform="translate(649.79,205.04) rotate(10.1)" font-size="6.8" fill="#000" font-family="Liberation Sans, sans-serif">257</text>
<text transform="translate(646.84,221.94) rotate(10.1)" font-size="6.8" fill="#000" font-family="Liberation Sans, sans-serif">256</text>
<text transform="translate(643.89,238.85) rotate(10.1)" font-size="6.8" fill="#000" font-family="Liberation Sans, sans-serif">255</text>
<text transform="translate(640.94,255.76) rotate(10.1)" font-size="6.8" fill="#000" font-family="Liberation Sans, sans-serif">254</text>
<text transform="translate(637.98,272.67) rotate(10.1)" font-size="6.8" fill="#000" font-family="Liberation Sans, sans-serif">253</text>
<text transform="translate(635.03,289.58) rotate(10.1)" font-size="6.8" fill="#000" font-family="Liberation Sans, sans-serif">252</text>
<text transform="translate(632.08,306.49) rotate(10.1)" font-size="6.8" fill="#000" font-family="Liberation Sans, sans-serif">251</text>
<text transform="translate(629.12,323.40) rotate(10.1)" font-size="6.8" fill="#000" font-family="Liberation Sans, sans-serif">250</text>
<line x1="63.7" y1="241.8" x2="98.4" y2="194.7" stroke="#000" stroke-width="4.1"/><polygon points="107.0,183.0 103.7,201.1 90.7,191.5" fill="#000"/>
<line x1="224.0" y1="247.8" x2="250.2" y2="312.1" stroke="#000" stroke-width="4.1"/><polygon points="256.2,326.9 241.6,313.4 257.3,307.0" fill="#000"/>
<line x1="490.0" y1="374.5" x2="506.9" y2="322.8" stroke="#000" stroke-width="4.1"/><polygon points="511.2,309.5 514.1,327.3 498.4,322.1" fill="#000"/>
</svg>
<div class="hand" id="h1" style="left:20.6px;top:257.8px;letter-spacing:0.2px">FARB-BLOCK</div>
<div class="hand" id="h2" style="left:35.2px;top:279px;letter-spacing:-0.45px">ANGABE</div>
<div class="hand" id="h3" style="left:164px;top:206.6px">GESCHRIEBENE</div>
<div class="hand" id="h4" style="left:202.2px;top:227.8px;letter-spacing:-0.35px">ANGABE</div>
<div class="hand" id="h5" style="left:464.2px;top:384.7px;letter-spacing:0.5px">GRAFIK</div>
<div class="txt" id="t1" style="left:82.7px;top:345.8px;letter-spacing:-0.5px">R 10: J1, B1, I1, E1, H1, E3, B1, J1</div>
<div class="txt" id="t2" style="left:82.7px;top:370.4px;letter-spacing:-0.6px">R 11: J1, B1, I1, E1, H1, E1, F1, E2, B1, J1</div>
<div class="txt" id="t3" style="left:82.7px;top:395px;letter-spacing:-0.46px">R 12: J1, B1, I1, E1, H1, D1, H1, E2, F1, B1, J1</div>
</body></html>
